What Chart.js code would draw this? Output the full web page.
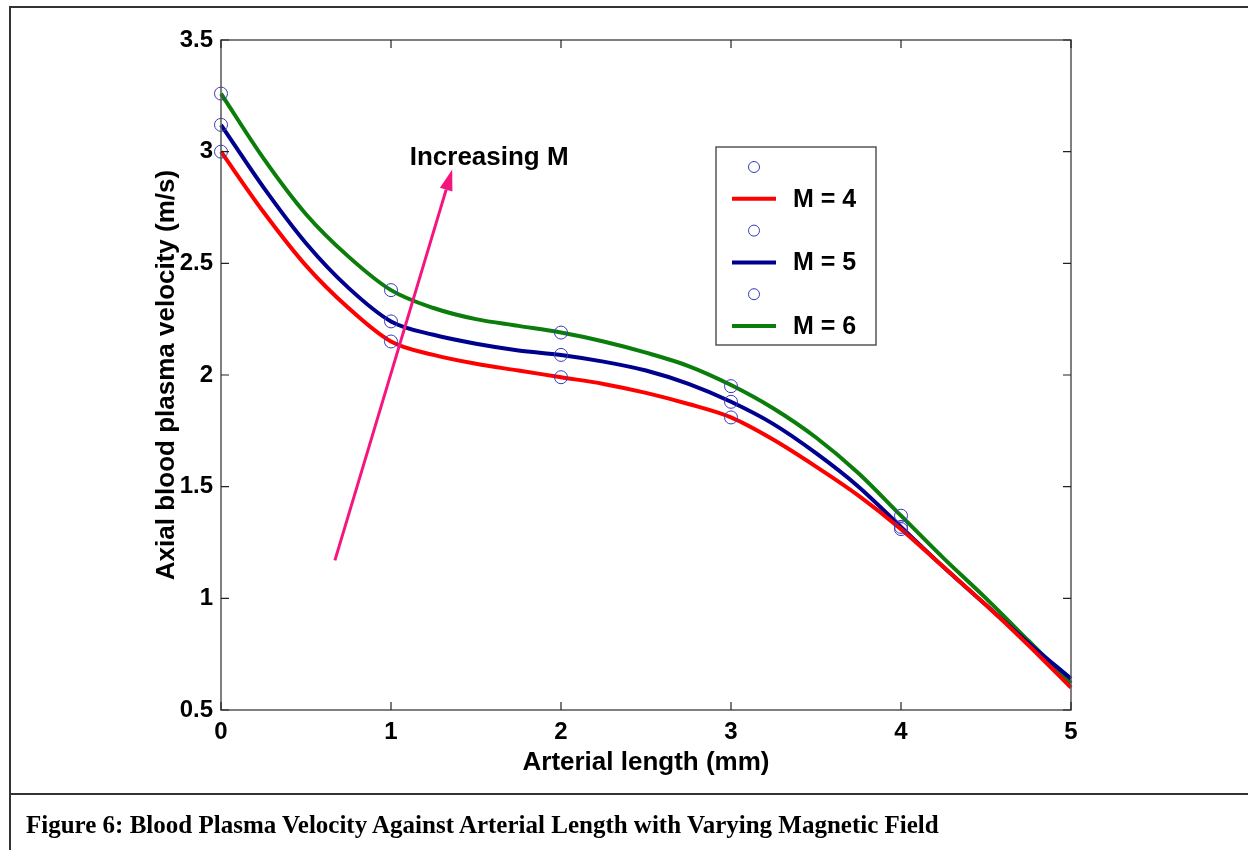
<!DOCTYPE html>
<html>
<head>
<meta charset="utf-8">
<script src="https://cdn.jsdelivr.net/npm/chart.js@4.4.0/dist/chart.umd.min.js"></script>
<style>
  html, body { margin: 0; padding: 0; background: #fff; overflow: hidden; }
  #wrap { position: relative; width: 1248px; height: 850px; }
  #plot { position: absolute; left: 0; top: 0; }
  .frame { position: absolute; background: #333; }
  #caption { position: absolute; left: 26px; top: 811px; line-height: 1; font: bold 25px "Liberation Serif", "Times New Roman", serif; color: #000; white-space: nowrap; }
</style>
</head>
<body>
<div id="wrap">
  <canvas id="plot" width="1248" height="850"></canvas>
  <div class="frame" style="left:9px;top:6px;width:1239px;height:2px"></div>
  <div class="frame" style="left:9px;top:6px;width:2px;height:844px"></div>
  <div class="frame" style="left:9px;top:793px;width:1239px;height:2px"></div>
  <div id="caption">Figure 6: Blood Plasma Velocity Against Arterial Length with Varying Magnetic Field</div>
</div>
<script>
// values
const lineX = [0, 0.25, 0.5, 0.75, 1, 1.25, 1.5, 1.75, 2, 2.25, 2.5, 2.75, 3, 3.25, 3.5, 3.75, 4, 4.25, 4.5, 4.75, 5];
const velM4 = [3.00, 2.73, 2.49, 2.30, 2.15, 2.09, 2.05, 2.02, 1.99, 1.96, 1.92, 1.87, 1.81, 1.71, 1.59, 1.46, 1.31, 1.14, 0.97, 0.79, 0.60];
const velM5 = [3.12, 2.84, 2.59, 2.39, 2.24, 2.18, 2.14, 2.11, 2.09, 2.06, 2.02, 1.96, 1.88, 1.78, 1.65, 1.50, 1.32, 1.14, 0.97, 0.80, 0.64];
const velM6 = [3.26, 2.97, 2.72, 2.53, 2.38, 2.30, 2.25, 2.22, 2.19, 2.15, 2.10, 2.04, 1.955, 1.85, 1.72, 1.56, 1.37, 1.18, 1.00, 0.81, 0.62];

const markX = [0, 1, 2, 3, 4];
const markM4 = [3.00, 2.15, 1.99, 1.81, 1.31];
const markM5 = [3.12, 2.24, 2.09, 1.88, 1.32];
const markM6 = [3.26, 2.38, 2.19, 1.95, 1.37];

const seriesLabels = ['M = 4', 'M = 5', 'M = 6'];
const xTicks = [0, 1, 2, 3, 4, 5];
const yTicks = [0.5, 1, 1.5, 2, 2.5, 3, 3.5];

const arrowFrom = { x: 0.67, y: 1.17 };
const arrowTo = { x: 1.36, y: 2.92 };
const arrowText = 'Increasing M';
const arrowTextAt = { x: 1.11, y: 2.94 };

const colors = ['#ff0000', '#00008f', '#0b7d0b'];
const markColor = '#3a3ab8';
const sans = '"Liberation Sans", Arial, Helvetica, sans-serif';

function pts(xs, ys) { return xs.map((x, i) => ({ x: x, y: ys[i] })); }

const lineSets = [velM4, velM5, velM6];
const markSets = [markM4, markM5, markM6];
const datasets = [];
lineSets.forEach((vals, i) => {
    datasets.push({
        label: '',
        data: pts(markX, markSets[i]),
        showLine: false,
        pointStyle: 'circle',
        pointRadius: 6.5,
        pointBorderWidth: 1,
        pointBorderColor: markColor,
        pointBackgroundColor: 'rgba(0,0,0,0)',
        borderColor: markColor,
        clip: false,
        order: 0
    });
    datasets.push({
        label: seriesLabels[i],
        data: pts(lineX, vals),
        showLine: true,
        borderColor: colors[i],
        borderWidth: 4,
        pointRadius: 0,
        cubicInterpolationMode: 'monotone',
        clip: 4,
        order: 1
    });
});

// box with inward ticks on all four sides
const boxPlugin = {
    id: 'box',
    afterDatasetsDraw(chart) {
        const { ctx, chartArea: a, scales: { x, y } } = chart;
        ctx.save();
        ctx.strokeStyle = '#555';
        ctx.lineWidth = 1.5;
        ctx.strokeRect(a.left, a.top, a.right - a.left, a.bottom - a.top);
        ctx.strokeStyle = '#222';
        ctx.lineWidth = 1.2;
        ctx.beginPath();
        xTicks.forEach(v => {
            const px = x.getPixelForValue(v);
            ctx.moveTo(px, a.bottom); ctx.lineTo(px, a.bottom - 8);
            ctx.moveTo(px, a.top); ctx.lineTo(px, a.top + 8);
        });
        yTicks.forEach(v => {
            const py = y.getPixelForValue(v);
            ctx.moveTo(a.left, py); ctx.lineTo(a.left + 8, py);
            ctx.moveTo(a.right, py); ctx.lineTo(a.right - 8, py);
        });
        ctx.stroke();
        ctx.restore();
    }
};

// magenta arrow and its label
const arrowPlugin = {
    id: 'arrow',
    afterDatasetsDraw(chart) {
        const { ctx, scales: { x, y } } = chart;
        const x0 = x.getPixelForValue(arrowFrom.x), y0 = y.getPixelForValue(arrowFrom.y);
        const x1 = x.getPixelForValue(arrowTo.x), y1 = y.getPixelForValue(arrowTo.y);
        const ang = Math.atan2(y1 - y0, x1 - x0);
        const hl = 21, hw = 6.5;
        ctx.save();
        ctx.strokeStyle = '#f5157f';
        ctx.fillStyle = '#f5157f';
        ctx.lineWidth = 3;
        ctx.beginPath();
        ctx.moveTo(x0, y0);
        ctx.lineTo(x1 - hl * Math.cos(ang), y1 - hl * Math.sin(ang));
        ctx.stroke();
        ctx.beginPath();
        ctx.moveTo(x1, y1);
        ctx.lineTo(x1 - hl * Math.cos(ang) + hw * Math.sin(ang), y1 - hl * Math.sin(ang) - hw * Math.cos(ang));
        ctx.lineTo(x1 - hl * Math.cos(ang) - hw * Math.sin(ang), y1 - hl * Math.sin(ang) + hw * Math.cos(ang));
        ctx.closePath();
        ctx.fill();
        ctx.fillStyle = '#000';
        ctx.font = 'bold 26px ' + sans;
        ctx.textAlign = 'left';
        ctx.textBaseline = 'alphabetic';
        ctx.fillText(arrowText, x.getPixelForValue(arrowTextAt.x), y.getPixelForValue(arrowTextAt.y));
        ctx.restore();
    }
};

// legend drawn inside the axes, MATLAB style
const legendPlugin = {
    id: 'boxLegend',
    afterDraw(chart) {
        const ctx = chart.ctx;
        const L = 716, T = 147, W = 160, H = 198, row0 = 167, rowH = 31.8;
        ctx.save();
        ctx.fillStyle = '#fff';
        ctx.fillRect(L, T, W, H);
        ctx.strokeStyle = '#555';
        ctx.lineWidth = 1.5;
        ctx.strokeRect(L, T, W, H);
        chart.data.datasets.forEach((ds, i) => {
            const cy = row0 + i * rowH;
            if (ds.showLine) {
                ctx.strokeStyle = ds.borderColor;
                ctx.lineWidth = 4;
                ctx.beginPath();
                ctx.moveTo(732, cy); ctx.lineTo(776, cy);
                ctx.stroke();
            } else {
                ctx.strokeStyle = ds.pointBorderColor;
                ctx.lineWidth = 1;
                ctx.beginPath();
                ctx.arc(754, cy, 5.5, 0, Math.PI * 2);
                ctx.stroke();
            }
            if (ds.label) {
                ctx.fillStyle = '#000';
                ctx.font = 'bold 25px ' + sans;
                ctx.textAlign = 'left';
                ctx.textBaseline = 'middle';
                ctx.fillText(ds.label, 793, cy + 1);
            }
        });
        ctx.restore();
    }
};

const plotCanvas = document.getElementById('plot').getContext('2d');
var velocityChart = new Chart(plotCanvas, {
    type: 'scatter',
    data: { datasets: datasets },
    options: {
        responsive: false,
        animation: false,
        layout: { padding: { left: 0, right: 177, top: 40, bottom: 60 } },
        plugins: {
            legend: { display: false },
            tooltip: { enabled: false }
        },
        scales: {
            x: {
                type: 'linear',
                min: 0,
                max: 5,
                afterBuildTicks: s => { s.ticks = xTicks.map(v => ({ value: v })); },
                afterFit: s => { s.height = 80; },
                grid: { display: false, drawTicks: false },
                border: { display: false },
                ticks: {
                    padding: 8,
                    color: '#000',
                    font: { family: sans, size: 24, weight: 'bold' },
                    callback: v => String(v)
                },
                title: {
                    display: true,
                    text: 'Arterial length (mm)',
                    color: '#000',
                    font: { family: sans, size: 26, weight: 'bold' },
                    padding: { top: 0, bottom: 12 }
                }
            },
            y: {
                type: 'linear',
                min: 0.5,
                max: 3.5,
                afterBuildTicks: s => { s.ticks = yTicks.map(v => ({ value: v })); },
                afterFit: s => { s.width = 221; },
                grid: { display: false, drawTicks: false },
                border: { display: false },
                ticks: {
                    padding: 8,
                    color: '#000',
                    font: { family: sans, size: 24, weight: 'bold' },
                    callback: v => String(v)
                },
                title: {
                    display: true,
                    text: 'Axial blood plasma velocity (m/s)',
                    color: '#000',
                    font: { family: sans, size: 26, weight: 'bold' },
                    padding: { top: 151, bottom: 0 }
                }
            }
        }
    },
    plugins: [boxPlugin, arrowPlugin, legendPlugin]
});
</script>
</body>
</html>
